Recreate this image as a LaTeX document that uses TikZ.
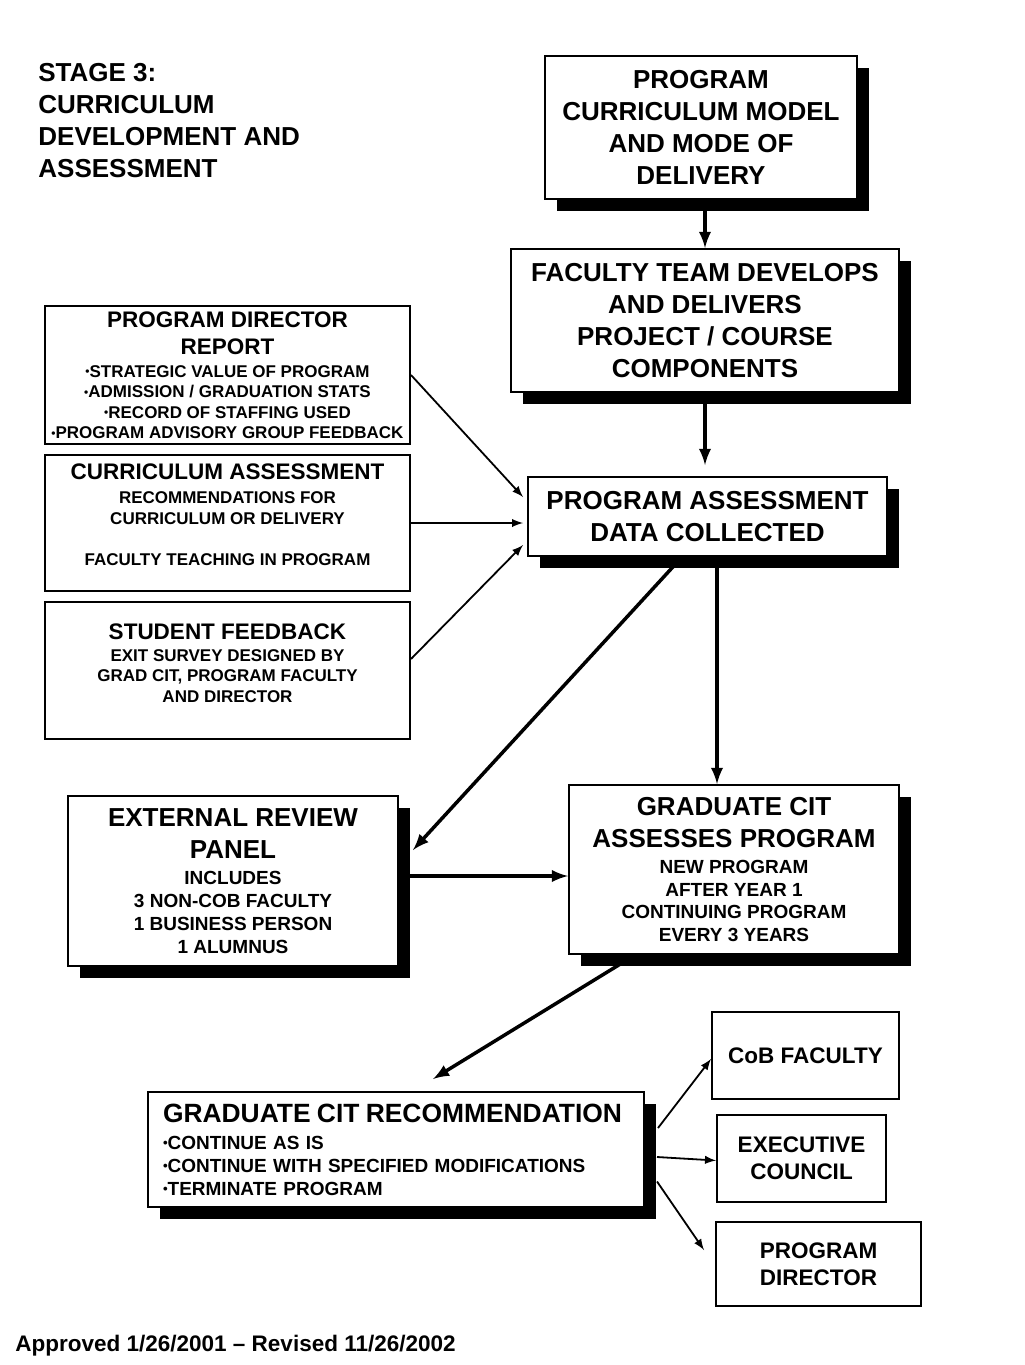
\documentclass[tikz,border=0pt]{standalone}
\usepackage{fontspec}
\setmainfont{Liberation Sans}
\tikzset{>=latex}
\usetikzlibrary{positioning,shadows}

\newcommand\lgsz{\fontsize{13}{16}\selectfont}
\newcommand\mdsz{\fontsize{11.25}{13.5}\selectfont}
\newcommand\smsz{\fontsize{8.5}{10.25}\selectfont}
\newcommand\nmsz{\fontsize{9.5}{11.4}\selectfont}
\newcommand\bul{\raisebox{0.15ex}{\scalebox{0.7}{•}}}

\tikzset{
  box/.style={draw, line width=1pt, fill=white, inner sep=0pt, align=center, font=\bfseries},
  dropbox/.style={box, drop shadow={shadow xshift=6pt, shadow yshift=-6pt, fill=black, opacity=1}},
  txt/.style={inner sep=0pt, align=center, font=\bfseries},
  flow/.style={->, line width=1.75pt},
  feed/.style={->, line width=0.9pt}
}

\begin{document}
\begin{tikzpicture}[x=0.5pt, y=-0.5pt]
      \useasboundingbox (0,0) rectangle (1024,1365);
      \node[txt, anchor=north west, align=left, font=\bfseries\lgsz] (stage) at (38,63) {STAGE 3:\\CURRICULUM\\DEVELOPMENT AND\\ASSESSMENT};
      % main column
      \node[dropbox, minimum width=156pt, minimum height=71.5pt, font=\bfseries\lgsz] (pcm) at (701,127.5) {PROGRAM\\CURRICULUM MODEL\\AND MODE OF\\DELIVERY};
      \node[dropbox, minimum width=194pt, minimum height=71.5pt, font=\bfseries\lgsz] (ftd) at (705,320.5) {FACULTY TEAM DEVELOPS\\AND DELIVERS\\PROJECT / COURSE\\COMPONENTS};
      \node[dropbox, minimum width=179.5pt, minimum height=39.5pt, font=\bfseries\lgsz] (pad) at (707.5,516.5) {PROGRAM ASSESSMENT\\DATA COLLECTED};
      % inputs
      \node[box, minimum width=182.5pt, minimum height=69pt, font=\bfseries\smsz] (pdr) at (227.5,375) {{\mdsz PROGRAM DIRECTOR}\\[3.25pt]{\mdsz REPORT}\\[1.25pt]\bul STRATEGIC VALUE OF PROGRAM\\\bul ADMISSION / GRADUATION STATS\\\bul RECORD OF STAFFING USED\\\bul PROGRAM ADVISORY GROUP FEEDBACK};
      \node[box, minimum width=182.5pt, minimum height=68pt] (ca) at (227.5,523) {};
      \node[txt, font=\bfseries\smsz] (catext) at (227.5,514.5) {{\mdsz CURRICULUM ASSESSMENT}\\[1.75pt]RECOMMENDATIONS FOR\\CURRICULUM OR DELIVERY\\[10.25pt]FACULTY TEACHING IN PROGRAM};
      \node[box, minimum width=182.5pt, minimum height=68.5pt] (sf) at (227.5,670.5) {};
      \node[txt, font=\bfseries\smsz] (sftext) at (227.5,663) {{\mdsz STUDENT FEEDBACK}\\[0.75pt]EXIT SURVEY DESIGNED BY\\GRAD CIT, PROGRAM FACULTY\\AND DIRECTOR};
      % review
      \node[dropbox, minimum width=165pt, minimum height=85pt, font=\bfseries\nmsz] (erp) at (233,881) {{\lgsz EXTERNAL REVIEW}\\[4.6pt]{\lgsz PANEL}\\[1.6pt]INCLUDES\\3 NON-COB FACULTY\\1 BUSINESS PERSON\\1 ALUMNUS};
      \node[dropbox, minimum width=165pt, minimum height=84.5pt, font=\bfseries\nmsz] (gca) at (734,869.5) {{\lgsz GRADUATE CIT}\\[4.6pt]{\lgsz ASSESSES PROGRAM}\\[1.6pt]NEW PROGRAM\\AFTER YEAR 1\\CONTINUING PROGRAM\\EVERY 3 YEARS};
      \node[dropbox, text width=233pt, inner xsep=7.5pt, minimum height=57.5pt, align=left, font=\bfseries\fontsize{9.5}{11.5}\selectfont] (gcr) at (396,1149.5) {\noindent{\fontsize{13.2}{16}\selectfont GRADUATE CIT RECOMMENDATION}\\[2pt]\bul CONTINUE AS IS\\\bul CONTINUE WITH SPECIFIED MODIFICATIONS\\\bul TERMINATE PROGRAM};
      % recipients
      \node[box, minimum width=93.5pt, minimum height=43.5pt, font=\bfseries\mdsz] (cob) at (805.5,1055.5) {CoB FACULTY};
      \node[box, minimum width=84.5pt, minimum height=43.5pt, font=\bfseries\mdsz] (exc) at (801.5,1158.5) {EXECUTIVE\\COUNCIL};
      \node[box, minimum width=102.5pt, minimum height=42pt, font=\bfseries\mdsz] (pdir) at (818.5,1264) {PROGRAM\\DIRECTOR};
      \node[txt, anchor=base west, font=\bfseries\mdsz] (approved) at (15,1351) {Approved 1/26/2001 – Revised 11/26/2002};
      % connectors
      \draw[flow] (pcm.south -| ftd.north) -- (ftd.north);
      \draw[flow, shorten >=5.5pt] (ftd.south) -- (ftd.south |- pad.north);
      \draw[flow] ([xshift=-8.5pt]gca.north |- pad.south) -- ([xshift=-8.5pt]gca.north);
      \draw[flow] ([xshift=-12.75pt]pad.south) -- ([xshift=7pt, yshift=15.5pt]erp.east);
      \draw[flow] ([yshift=2.5pt]erp.east) -- ([yshift=2.5pt]erp.east -| gca.west);
      \draw[flow] ([xshift=-49.5pt]gca.south) -- ([xshift=18.5pt, yshift=6pt]gcr.north);
      \draw[feed] (pdr.east) -- ([xshift=-2pt, yshift=9.75pt]pad.west);
      \draw[feed] (ca.east) -- ([xshift=-2pt]ca.east -| pad.west);
      \draw[feed] ([yshift=5.75pt]sf.east) -- ([xshift=-2pt, yshift=-14.25pt]pad.west);
      \draw[feed] ([xshift=6.5pt, yshift=10.75pt]gcr.east) -- ([yshift=-1.75pt]cob.west);
      \draw[feed] ([xshift=6pt, yshift=-3.75pt]gcr.east) -- ([yshift=-1pt]exc.west);
      \draw[feed] ([xshift=6pt, yshift=-16pt]gcr.east) -- ([xshift=-5.5pt, yshift=7pt]pdir.west);
\end{tikzpicture}
\end{document}
